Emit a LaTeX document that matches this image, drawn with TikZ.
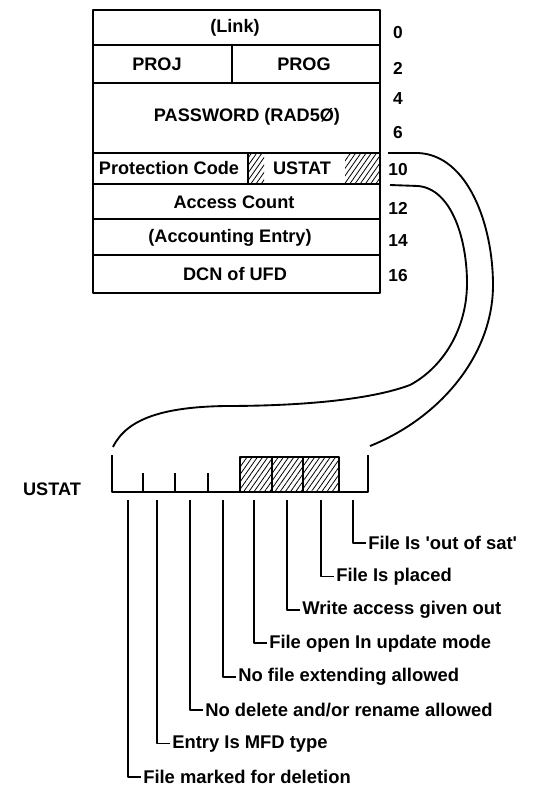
\documentclass[tikz,border=0pt]{standalone}
\usepackage{fontspec}
\setmainfont{Liberation Sans}
\usetikzlibrary{patterns.meta}

\tikzset{
  celltext/.style={inner sep=0.75pt, font=\fontsize{13.6}{15}\selectfont\bfseries},
  offsettext/.style={inner sep=0.75pt, font=\fontsize{13}{14}\selectfont\bfseries},
  flagtext/.style={anchor=west, inner sep=1.5pt, font=\fontsize{13.8}{15}\selectfont\bfseries},
  hatch/.style={pattern={Lines[angle=55,distance=3.2pt,line width=0.6pt]}},
}

\begin{document}
\begin{tikzpicture}[x=0.75pt,y=0.75pt,yscale=-1,line join=round]
\useasboundingbox (0,0) rectangle (538,795);

%Hatching: USTAT cell
\fill [hatch] (249,154) rectangle (264,183) ;
\fill [hatch] (345,154) rectangle (379,183) ;
%Hatching: USTAT bits
\fill [hatch] (240,457) rectangle (339,492) ;

%Straight Lines: rows of the entry
\draw [line width=1pt] (93,45) -- (380,45) ;
\draw [line width=1pt] (93,83) -- (380,83) ;
\draw [line width=1pt] (93,153) -- (380,153) ;
\draw [line width=1pt] (93,184) -- (380,184) ;
\draw [line width=1pt] (93,219) -- (380,219) ;
\draw [line width=1pt] (93,255) -- (380,255) ;
\draw [line width=1pt] (232,45) -- (232,83) ;
\draw [line width=1pt] (248,153) -- (248,184) ;
%Shape: Rectangle
\draw [line width=2.2pt] (93,10) rectangle (380,293) ;

% Text Node
\node [celltext] (link) at (235,28) {(Link)};
\node [celltext] (proj) at (157,64) {PROJ};
\node [celltext] (prog) at (304,64) {PROG};
\node [celltext] (pass) at (247,117) {PASSWORD (RAD5Ø)};
\node [celltext] (prot) at (169,168) {Protection Code};
\node [celltext] (ustat) at (302,168) {USTAT};
\node [celltext] (acc) at (234,202) {Access Count};
\node [celltext] (acct) at (230,238) {(Accounting Entry)};
\node [celltext] (dcn) at (235,274) {DCN of UFD};

% Offsets
\node [offsettext] (off0) at (398,33) {0};
\node [offsettext] (off2) at (398,68) {2};
\node [offsettext] (off4) at (398,99) {4};
\node [offsettext] (off6) at (398,133) {6};
\node [offsettext] (off10) at (398,170) {10};
\node [offsettext] (off12) at (398,208) {12};
\node [offsettext] (off14) at (398,241) {14};
\node [offsettext] (off16) at (398,276) {16};

%Shape: USTAT byte
\draw [line width=2pt] (112,455) -- (112,492) -- (368,492) -- (368,455) ;
\draw [line width=2pt] (143,492) -- (143,473) ;
\draw [line width=2pt] (175,492) -- (175,473) ;
\draw [line width=2pt] (208,492) -- (208,473) ;
\draw [line width=2pt] (240,457) rectangle (339,492) ;
\draw [line width=2pt] (272,457) -- (272,492) ;
\draw [line width=2pt] (303,457) -- (303,492) ;
\node [celltext] (ustatname) at (52,489) {USTAT};

%Curves: USTAT word to byte
\coordinate (wordtop) at (388,153) ;
\coordinate (wordbot) at (390,185) ;
\coordinate (byteright) at (370,446) ;
\coordinate (byteleft) at (113,447) ;
\draw [line width=1.4pt] (wordtop) -- (418,153) .. controls (468,155) and (493,225) .. (493,285) .. controls (493,355) and (440,418) .. (byteright) ;
\draw [line width=1.4pt] (wordbot) -- (418,186) .. controls (452,189) and (467,240) .. (467,283) .. controls (467,330) and (442,368) .. (410,385) .. controls (370,400) and (300,406) .. (225,406) .. controls (165,407) and (127,418) .. (byteleft) ;

%Straight Lines: bit flags
\foreach \bx/\by/\flag [count=\i] in {
  128/777/{File marked for deletion},
  157/743.6/{Entry Is MFD type},
  190/710.1/{No delete and/or rename allowed},
  223/676.7/{No file extending allowed},
  254/643.3/{File open In update mode},
  287/609.9/{Write access given out},
  321/576.4/{File Is placed},
  353/543/{File Is \textquotesingle out of sat\textquotesingle}}{
  \coordinate (bit\i) at (\bx,500) ;
  \node [flagtext] (flag\i) at (\bx+13,\by) {\flag};
  \draw [line width=1.3pt] (bit\i) |- (flag\i.west) ;
}
\end{tikzpicture}
\end{document}
